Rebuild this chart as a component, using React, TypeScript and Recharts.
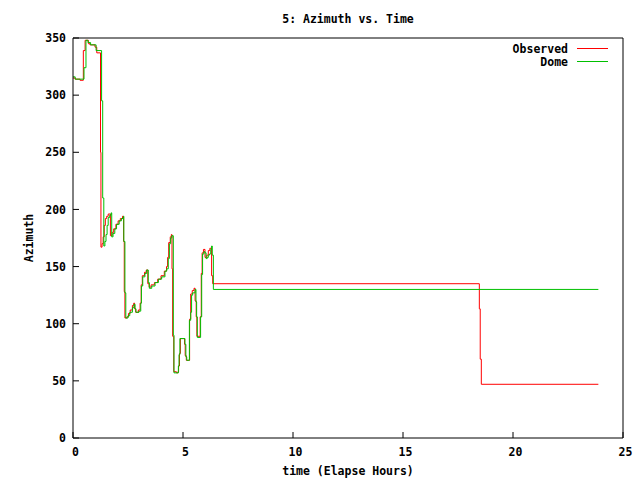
import React from 'react';
import { LineChart, Line, XAxis, YAxis, Legend } from 'recharts';

const obsT = [0, 0.10, 0.32, 0.47, 0.55, 0.70, 0.77, 1.00, 1.08, 1.25, 1.27, 1.32, 1.37, 1.42, 1.47, 1.53, 1.60, 1.70, 1.78, 1.85, 1.95, 2.05, 2.15, 2.25, 2.30, 2.33, 2.36, 2.45, 2.52, 2.60, 2.70, 2.76, 2.80, 2.85, 2.97, 3.05, 3.10, 3.15, 3.25, 3.33, 3.40, 3.46, 3.55, 3.70, 3.85, 4.00, 4.15, 4.25, 4.30, 4.35, 4.42, 4.47, 4.50, 4.53, 4.58, 4.70, 4.77, 4.80, 4.84, 4.88, 5.07, 5.10, 5.15, 5.25, 5.30, 5.35, 5.42, 5.50, 5.55, 5.60, 5.63, 5.78, 5.83, 5.87, 5.93, 6.00, 6.08, 6.15, 6.22, 6.30, 6.35, 18.47, 18.51, 18.56, 23.88];
const obsAz = [315, 314, 313, 339, 348, 345, 344, 342, 337, 250, 167, 170, 176, 186, 192, 194, 196, 177, 180, 183, 187, 190, 192, 194, 172, 128, 105, 106, 109, 112, 116, 118, 113, 110, 112, 118, 134, 142, 145, 147, 135, 132, 134, 136, 139, 142, 146, 150, 158, 171, 176, 178, 148, 89, 58, 57, 58, 63, 74, 87, 82, 72, 68, 68, 104, 126, 129, 131, 120, 106, 89, 106, 144, 162, 165, 158, 160, 164, 166, 142, 135, 113, 69, 47, 47];

const domeT = [0, 0.10, 0.50, 0.59, 0.68, 0.80, 1.05, 1.30, 1.35, 1.40, 1.45, 1.50, 1.55, 1.60, 1.67, 1.73, 1.76, 1.82, 1.90, 1.98, 2.10, 2.20, 2.29, 2.31, 2.36, 2.40, 2.50, 2.58, 2.70, 2.77, 2.82, 2.86, 3.00, 3.08, 3.11, 3.17, 3.27, 3.35, 3.42, 3.47, 3.58, 3.73, 3.88, 4.03, 4.18, 4.26, 4.33, 4.38, 4.44, 4.49, 4.56, 4.59, 4.79, 4.82, 4.86, 5.09, 5.13, 5.17, 5.29, 5.35, 5.39, 5.44, 5.55, 5.59, 5.62, 5.65, 5.80, 5.85, 5.89, 5.95, 6.00, 6.05, 6.10, 6.15, 6.20, 6.26, 6.30, 6.33, 6.38, 23.88];
const domeAz = [316, 314, 324, 348, 346, 344, 339, 295, 210, 168, 172, 178, 186, 193, 195, 197, 176, 179, 183, 187, 190, 192, 194, 172, 127, 105, 107, 110, 114, 117, 113, 110, 111, 118, 133, 141, 144, 147, 136, 131, 133, 136, 139, 141, 146, 148, 157, 170, 175, 177, 90, 57, 63, 73, 87, 82, 71, 68, 103, 110, 125, 127, 130, 119, 106, 88, 106, 143, 161, 163, 162, 157, 158, 160, 161, 165, 168, 160, 130, 130];

const xTicks = [0, 5, 10, 15, 20, 25];
const yTicks = [0, 50, 100, 150, 200, 250, 300, 350];

const titleText = '5: Azimuth vs. Time';
const xLabel = 'time (Elapse Hours)';
const yLabel = 'Azimuth';
const obsName = 'Observed';
const domeName = 'Dome';
const legendOrder = [obsName, domeName];

const obsData = obsT.map((t, i) => ({ t, az: obsAz[i] }));
const domeData = domeT.map((t, i) => ({ t, az: domeAz[i] }));

const FONT = '"DejaVu Sans Mono", "Liberation Mono", monospace';
const xTickStyle = { fill: '#000', fontFamily: FONT, fontSize: 11.5, fontWeight: 'bold' as const, dx: 2.5 };
const yTickStyle = { fill: '#000', fontFamily: FONT, fontSize: 11.5, fontWeight: 'bold' as const };

function LegendContent(props: any) {
  const payload = [...(props.payload || [])].sort(
    (a: any, b: any) => legendOrder.indexOf(a.value) - legendOrder.indexOf(b.value)
  );
  return (
    <div style={{ fontFamily: FONT, fontSize: 11.5, fontWeight: 'bold', color: '#000' }}>
      {payload.map((p: any) => (
        <div key={p.value} style={{ display: 'flex', alignItems: 'center', justifyContent: 'flex-end', height: 13 }}>
          <span>{p.value}</span>
          <svg width={40} height={13} style={{ display: 'block' }}>
            <line x1={9} x2={40} y1={6.5} y2={6.5} stroke={p.color} strokeWidth={1} />
          </svg>
        </div>
      ))}
    </div>
  );
}

export default function App() {
  return (
    <div style={{ position: 'absolute', left: 0, top: 0, width: 640, height: 480, background: '#fff' }}>
      <div
        style={{
          position: 'absolute', left: 48, top: 12, width: 600, textAlign: 'center',
          fontFamily: FONT, fontSize: 11.5, fontWeight: 'bold', lineHeight: '14px', color: '#000',
        }}
      >
        {titleText}
      </div>
      <LineChart width={640} height={480} margin={{ top: 37, right: 16, bottom: 0, left: 0 }}>
        <XAxis
          xAxisId="x" dataKey="t" type="number" domain={[0, 25]} ticks={xTicks} interval={0}
          orientation="bottom" height={42} tickSize={-6} tickMargin={16}
          axisLine={{ stroke: '#000' }} tickLine={{ stroke: '#000' }} tick={xTickStyle} allowDataOverflow
          label={{ value: xLabel, position: 'center', dy: 12, fill: '#000', fontFamily: FONT, fontSize: 11.5, fontWeight: 'bold' }}
        />
        <XAxis
          xAxisId="xt" type="number" domain={[0, 25]} ticks={xTicks} interval={0}
          orientation="top" height={1} tickSize={-6} tick={false}
          axisLine={{ stroke: '#000' }} tickLine={{ stroke: '#000' }} allowDataOverflow
        />
        <YAxis
          yAxisId="y" type="number" domain={[0, 350]} ticks={yTicks} interval={0}
          width={73} tickSize={-6} tickMargin={13}
          axisLine={{ stroke: '#000' }} tickLine={{ stroke: '#000' }} tick={yTickStyle} allowDataOverflow
          label={{ value: yLabel, angle: -90, position: 'center', dx: -8, fill: '#000', fontFamily: FONT, fontSize: 11.5, fontWeight: 'bold' }}
        />
        <YAxis
          yAxisId="yr" type="number" domain={[0, 350]} ticks={yTicks} interval={0}
          orientation="right" width={1} tickSize={-6} tick={false}
          axisLine={{ stroke: '#000' }} tickLine={{ stroke: '#000' }} allowDataOverflow
        />
        <Legend
          layout="vertical" align="center" verticalAlign="middle"
          wrapperStyle={{ top: 42, right: 32, left: 'auto', width: 'auto' }}
          content={<LegendContent />}
        />
        <Line
          xAxisId="x" yAxisId="y" data={obsData} dataKey="az" name={obsName} type="stepAfter"
          stroke="#ff0000" strokeWidth={1} dot={false} activeDot={false} isAnimationActive={false}
        />
        <Line
          xAxisId="x" yAxisId="y" data={domeData} dataKey="az" name={domeName} type="stepAfter"
          stroke="#00c000" strokeWidth={1} dot={false} activeDot={false} isAnimationActive={false}
        />
      </LineChart>
    </div>
  );
}
